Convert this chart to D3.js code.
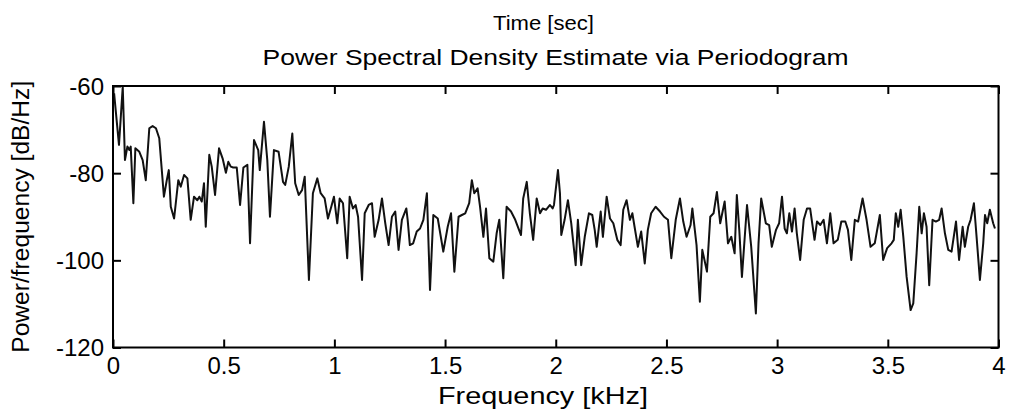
<!DOCTYPE html>
<html>
<head>
<meta charset="utf-8">
<script src="https://cdn.jsdelivr.net/npm/d3@7"></script>
<style>
  html, body { margin: 0; padding: 0; background: #fff; }
  svg { display: block; }
  text { font-family: Arial, "Liberation Sans", Helvetica, sans-serif; fill: #000; }
</style>
</head>
<body>
<svg id="chart" width="1010" height="413"></svg>
<script>
// ---- Data ----
const freqKHz = [
0.005,0.027,0.044,0.054,0.065,0.074,0.080,0.092,0.101,0.119,0.134,0.148,0.164,0.179,0.194,0.209,0.230,0.243,0.252,0.261,
0.276,0.295,0.306,0.321,0.336,0.351,0.366,0.381,0.390,0.401,0.411,0.419,0.435,0.446,0.461,0.479,0.495,0.510,0.521,0.532,
0.543,0.559,0.574,0.589,0.607,0.619,0.637,0.656,0.663,0.682,0.697,0.709,0.727,0.748,0.768,0.778,0.794,0.810,0.823,0.839,
0.854,0.866,0.885,0.903,0.923,0.938,0.956,0.971,0.986,0.998,1.013,1.024,1.039,1.058,1.069,1.084,1.096,1.107,1.125,1.137,
1.155,1.170,1.182,1.200,1.215,1.230,1.245,1.260,1.275,1.290,1.305,1.325,1.331,1.341,1.356,1.372,1.387,1.402,1.418,1.432,
1.447,1.467,1.492,1.512,1.527,1.542,1.561,1.576,1.591,1.609,1.621,1.632,1.647,1.658,1.673,1.685,1.700,1.718,1.733,1.745,
1.763,1.778,1.798,1.817,1.843,1.853,1.869,1.883,1.898,1.914,1.929,1.941,1.956,1.974,1.986,1.992,2.010,2.019,2.025,2.040,
2.055,2.070,2.090,2.100,2.115,2.131,2.150,2.165,2.176,2.185,2.195,2.203,2.213,2.230,2.245,2.260,2.278,2.293,2.305,2.320,
2.335,2.346,2.356,2.371,2.386,2.402,2.416,2.431,2.451,2.471,2.489,2.507,2.522,2.542,2.561,2.576,2.591,2.609,2.617,2.636,
2.651,2.662,2.683,2.698,2.713,2.728,2.743,2.763,2.778,2.793,2.808,2.818,2.829,2.841,2.864,2.883,2.904,2.916,2.928,2.949,
2.964,2.976,2.995,3.009,3.022,3.034,3.044,3.055,3.067,3.079,3.089,3.104,3.120,3.135,3.149,3.169,3.180,3.195,3.210,3.225,
3.240,3.255,3.274,3.290,3.308,3.320,3.335,3.351,3.366,3.386,3.404,3.422,3.441,3.464,3.479,3.497,3.517,3.527,3.536,3.547,
3.558,3.570,3.585,3.603,3.615,3.630,3.642,3.653,3.663,3.675,3.687,3.702,3.717,3.732,3.743,3.758,3.773,3.788,3.808,3.822,
3.838,3.848,3.863,3.874,3.889,3.901,3.916,3.931,3.939,3.949,3.961,3.976,3.984
];
const psdDb = [
-61.7,-73.5,-60.2,-77.0,-73.9,-74.7,-73.9,-86.9,-74.3,-75.1,-77.0,-81.6,-69.7,-69.2,-69.7,-72.0,-85.4,-81.6,-79.3,-87.7,
-90.4,-81.6,-83.1,-80.4,-81.2,-90.7,-85.4,-86.2,-85.4,-86.5,-82.3,-92.3,-75.8,-78.5,-85.0,-74.3,-76.6,-79.9,-77.4,-78.5,
-78.7,-78.7,-87.3,-78.7,-78.1,-96.1,-72.4,-74.7,-79.3,-68.2,-77.0,-90.0,-74.7,-75.1,-82.0,-82.7,-78.5,-70.9,-82.3,-85.0,
-83.9,-80.8,-104.5,-84.6,-81.2,-84.6,-85.8,-90.4,-87.7,-85.4,-91.5,-85.8,-86.9,-99.5,-85.4,-88.1,-87.3,-90.0,-104.5,-89.2,
-87.3,-86.9,-94.6,-90.7,-85.8,-91.5,-96.5,-90.0,-88.8,-97.6,-90.7,-88.1,-90.7,-96.5,-96.1,-93.4,-92.7,-90.7,-84.6,-106.8,
-89.6,-90.4,-98.0,-92.3,-89.2,-102.6,-90.0,-89.6,-89.2,-86.9,-81.6,-84.6,-83.5,-87.7,-94.6,-88.1,-99.5,-100.3,-93.8,-90.7,
-104.1,-87.7,-88.8,-90.7,-94.2,-85.8,-82.0,-89.2,-95.3,-85.8,-89.2,-88.1,-88.4,-87.3,-88.1,-87.3,-79.3,-84.6,-94.2,-90.7,
-86.2,-91.5,-101.1,-90.7,-101.1,-94.6,-89.2,-89.6,-93.0,-96.9,-92.3,-88.8,-94.6,-85.4,-90.4,-91.5,-95.3,-96.5,-88.4,-86.2,
-90.7,-89.2,-92.3,-96.9,-93.4,-100.7,-93.0,-89.2,-87.7,-88.8,-90.0,-90.7,-99.5,-90.7,-85.8,-91.1,-94.6,-91.9,-88.1,-96.5,
-109.5,-97.6,-102.6,-90.0,-89.2,-84.3,-91.5,-86.5,-96.1,-94.6,-98.4,-85.0,-93.0,-103.8,-87.3,-96.9,-112.2,-96.1,-85.8,-91.5,
-91.9,-96.9,-93.0,-91.5,-85.4,-92.7,-93.8,-89.2,-93.4,-88.1,-93.8,-99.9,-90.7,-88.1,-88.1,-95.3,-91.1,-91.9,-90.7,-96.1,
-89.2,-96.1,-95.3,-91.1,-91.1,-93.0,-99.9,-90.7,-91.1,-85.8,-90.7,-96.9,-96.1,-89.6,-99.9,-97.2,-96.1,-95.3,-89.2,-92.3,
-88.4,-94.6,-103.8,-111.4,-109.9,-98.4,-87.7,-93.8,-89.2,-92.3,-105.7,-90.7,-91.1,-90.7,-88.1,-93.8,-97.6,-98.0,-91.1,-99.9,
-92.3,-96.9,-92.3,-90.7,-86.9,-94.6,-104.5,-96.1,-89.6,-91.5,-88.4,-91.5,-92.7
];
const xTicks = [0, 0.5, 1, 1.5, 2, 2.5, 3, 3.5, 4];
const yTicks = [-120, -100, -80, -60];
const xDomain = [0, 4];
const yDomain = [-120, -60];
const titleLine1 = "Time [sec]";
const titleLine2 = "Power Spectral Density Estimate via Periodogram";
const xLabel = "Frequency [kHz]";
const yLabel = "Power/frequency [dB/Hz]";

(function draw() {
  // ---- Layout ----
  const pL = 113, pR = 998.5, pT = 86, pB = 347.5;
  const svg = d3.select("#chart");

  const x = d3.scaleLinear().domain(xDomain).range([pL, pR]);
  const y = d3.scaleLinear().domain(yDomain).range([pB, pT]);

  // Line
  const pts = freqKHz.map((f, i) => [f, psdDb[i]]);
  const line = d3.line().x(d => x(d[0])).y(d => y(d[1]));
  svg.append("path")
    .datum(pts)
    .attr("d", line)
    .attr("fill", "none")
    .attr("stroke", "#111")
    .attr("stroke-width", 2)
    .attr("stroke-linejoin", "round");

  // Axes (inward ticks)
  const fmt = d => String(d);
  const tickLen = 8;
  const axB = svg.append("g").attr("transform", `translate(0,${pB})`)
    .call(d3.axisBottom(x).tickValues(xTicks).tickSizeInner(-tickLen).tickSizeOuter(0).tickPadding(9).tickFormat(fmt));
  const axT = svg.append("g").attr("transform", `translate(0,${pT})`)
    .call(d3.axisTop(x).tickValues(xTicks).tickSizeInner(-tickLen).tickSizeOuter(0).tickFormat(""));
  const axL = svg.append("g").attr("transform", `translate(${pL},0)`)
    .call(d3.axisLeft(y).tickValues(yTicks).tickSizeInner(-tickLen).tickSizeOuter(0).tickPadding(9).tickFormat(fmt));
  const axR = svg.append("g").attr("transform", `translate(${pR},0)`)
    .call(d3.axisRight(y).tickValues(yTicks).tickSizeInner(-tickLen).tickSizeOuter(0).tickFormat(""));

  [axB, axT, axL, axR].forEach(g => {
    g.select(".domain").remove();
    g.selectAll(".tick line").attr("stroke", "#000").attr("stroke-width", 2);
    g.selectAll(".tick text").attr("font-size", 24).attr("fill", "#000")
      .style("font-family", "Arial, 'Liberation Sans', sans-serif");
  });
  axL.selectAll(".tick text").attr("dy", "0.35em");

  // Frame
  svg.append("rect")
    .attr("x", pL).attr("y", pT)
    .attr("width", pR - pL).attr("height", pB - pT)
    .attr("fill", "none").attr("stroke", "#000").attr("stroke-width", 2);

  // Titles
  svg.append("text").attr("x", 493).attr("y", 30)
    .attr("text-anchor", "start").attr("font-size", 21)
    .attr("textLength", 101).attr("lengthAdjust", "spacingAndGlyphs")
    .text(titleLine1);
  svg.append("text").attr("x", 555.5).attr("y", 65)
    .attr("text-anchor", "middle").attr("font-size", 22)
    .attr("textLength", 586).attr("lengthAdjust", "spacingAndGlyphs")
    .text(titleLine2);

  // Axis labels
  svg.append("text").attr("x", 543).attr("y", 404)
    .attr("text-anchor", "middle").attr("font-size", 24)
    .attr("textLength", 210).attr("lengthAdjust", "spacingAndGlyphs")
    .text(xLabel);
  svg.append("text")
    .attr("transform", `translate(29,${(pT + pB) / 2}) rotate(-90)`)
    .attr("text-anchor", "middle").attr("font-size", 23)
    .attr("textLength", 272).attr("lengthAdjust", "spacingAndGlyphs")
    .text(yLabel);
})();
</script>
</body>
</html>
